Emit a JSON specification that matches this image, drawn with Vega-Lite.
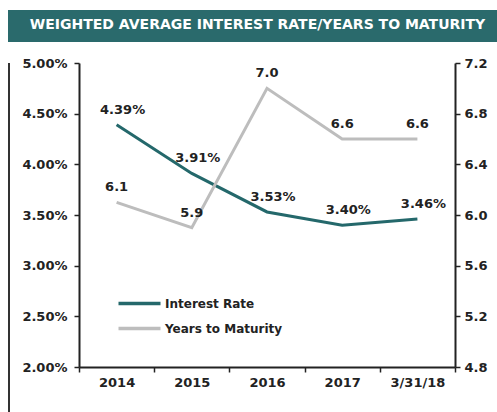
{
  "$schema": "https://vega.github.io/schema/vega-lite/v6.json",
  "padding": {"left": 8, "top": 10, "right": 0, "bottom": 0},
  "background": "white",
  "config": {
    "font": "DejaVu Sans",
    "view": {"stroke": null},
    "axis": {"labelFont": "DejaVu Sans", "labelFontWeight": "bold", "labelFontSize": 13, "labelColor": "#222", "domainColor": "#222", "domainWidth": 2, "tickColor": "#222", "tickWidth": 1.5, "tickSize": 5, "grid": false, "title": null}
  },
  "spacing": 0,
  "vconcat": [
    {
      "width": 489,
      "height": 32,
      "view": {"fill": "#2a6a6c", "stroke": null},
      "data": {"values": [{"t": "WEIGHTED AVERAGE INTEREST RATE/YEARS TO MATURITY"}]},
      "mark": {"type": "text", "color": "white", "font": "DejaVu Sans", "fontWeight": "bold", "fontSize": 14, "dx": 5, "dy": -1},
      "encoding": {"text": {"field": "t"}}
    },
    {
      "spacing": 11,
      "hconcat": [
        {
          "width": 2,
          "height": 370,
          "view": {"fill": "#333", "stroke": null},
          "data": {"values": [{"t": ""}]},
          "mark": {"type": "text"},
          "encoding": {"text": {"field": "t"}}
        },
        {
          "width": 376,
          "height": 304,
          "title": {"text": " ", "fontSize": 10, "offset": 5},
          "data": {"values": [
            {"period": "2014", "rate": 0.0439, "years": 6.1},
            {"period": "2015", "rate": 0.0391, "years": 5.9},
            {"period": "2016", "rate": 0.0353, "years": 7.0},
            {"period": "2017", "rate": 0.0340, "years": 6.6},
            {"period": "3/31/18", "rate": 0.0346, "years": 6.6}
          ]},
          "encoding": {
            "x": {"field": "period", "type": "ordinal", "sort": null, "bandPosition": 0.5,
              "scale": {"type": "band", "paddingInner": 0, "paddingOuter": 0},
              "axis": {"labelAngle": 0, "tickBand": "extent", "labelPadding": 4}}
          },
          "layer": [
            {
              "layer": [
                {
                  "mark": {"type": "line", "strokeWidth": 3},
                  "encoding": {
                    "y": {"field": "rate", "type": "quantitative", "scale": {"domain": [0.02, 0.05]},
                      "axis": {"orient": "left", "values": [0.02, 0.025, 0.03, 0.035, 0.04, 0.045, 0.05], "format": ".2%", "labelPadding": 7}},
                    "color": {"datum": "Interest Rate", "type": "nominal",
                      "scale": {"domain": ["Interest Rate", "Years to Maturity"], "range": ["#24686b", "#bdbdbd"]},
                      "legend": {"orient": "none", "legendX": 119, "legendY": 281, "title": null, "direction": "vertical",
                        "symbolType": "M-2,0H2", "symbolSize": 441, "symbolStrokeWidth": 3.5, "symbolFillColor": null,
                        "labelFont": "DejaVu Sans", "labelFontWeight": "bold", "labelFontSize": 12, "labelColor": "#222", "labelOffset": 13, "padding": 0, "rowPadding": 5}}
                  }
                },
                {
                  "mark": {"type": "text", "font": "DejaVu Sans", "fontWeight": "bold", "fontSize": 13, "color": "#222", "dy": -15, "dx": 6},
                  "encoding": {
                    "y": {"field": "rate", "type": "quantitative"},
                    "text": {"field": "rate", "type": "quantitative", "format": ".2%"}
                  }
                }
              ]
            },
            {
              "layer": [
                {
                  "mark": {"type": "line", "strokeWidth": 3},
                  "encoding": {
                    "y": {"field": "years", "type": "quantitative", "scale": {"domain": [4.8, 7.2]},
                      "axis": {"orient": "right", "values": [4.8, 5.2, 5.6, 6.0, 6.4, 6.8, 7.2], "format": ".1f", "labelPadding": 4}},
                    "color": {"datum": "Years to Maturity", "type": "nominal"}
                  }
                },
                {
                  "mark": {"type": "text", "font": "DejaVu Sans", "fontWeight": "bold", "fontSize": 13, "color": "#222", "dy": -15},
                  "encoding": {
                    "y": {"field": "years", "type": "quantitative"},
                    "text": {"field": "years", "type": "quantitative", "format": ".1f"}
                  }
                }
              ]
            }
          ],
          "resolve": {"scale": {"y": "independent"}}
        }
      ]
    }
  ]
}
